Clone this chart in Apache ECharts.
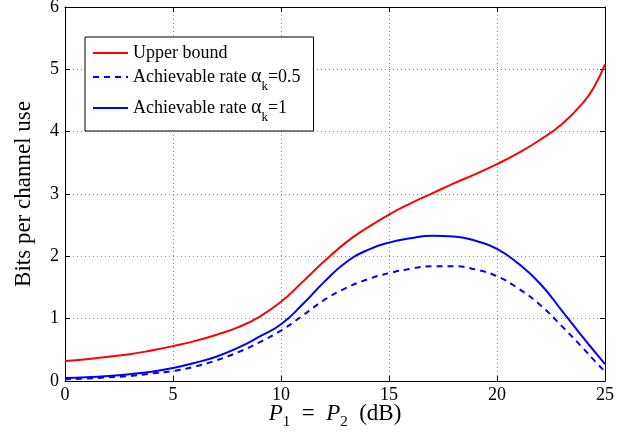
<!DOCTYPE html>
<html>
<head>
<meta charset="utf-8">
<script src="https://cdn.jsdelivr.net/npm/echarts@6/dist/echarts.min.js"></script>
<style>
  html, body { margin: 0; padding: 0; background: #fff; }
  #chart { width: 631px; height: 432px; }
</style>
</head>
<body>
<div id="chart"></div>
<script>
// P1 = P2 in dB
const xValues = [0, 1, 2, 3, 4, 5, 6, 7, 8, 9, 10, 11, 12, 13, 14, 15, 16, 17, 18, 19, 20, 21, 22, 23, 24, 24.5, 25];
const upperBound = [0.32, 0.35, 0.39, 0.43, 0.49, 0.56, 0.64, 0.74, 0.86, 1.03, 1.27, 1.59, 1.92, 2.22, 2.46, 2.67, 2.85, 3.01, 3.17, 3.32, 3.48, 3.66, 3.87, 4.12, 4.47, 4.72, 5.08];
const rateHalf = [0.03, 0.04, 0.06, 0.08, 0.12, 0.16, 0.23, 0.33, 0.46, 0.62, 0.81, 1.05, 1.30, 1.49, 1.63, 1.73, 1.80, 1.84, 1.84, 1.79, 1.68, 1.48, 1.22, 0.88, 0.52, 0.33, 0.15];
const rateOne = [0.05, 0.06, 0.08, 0.11, 0.15, 0.21, 0.29, 0.39, 0.53, 0.71, 0.91, 1.23, 1.59, 1.90, 2.10, 2.22, 2.29, 2.33, 2.32, 2.25, 2.12, 1.88, 1.56, 1.13, 0.69, 0.48, 0.27];
const seriesNames = ['Upper bound', 'Achievable rate α_k=0.5', 'Achievable rate α_k=1'];

const serif = 'Liberation Serif';
const pairs = (ys) => xValues.map((x, i) => [x, ys[i]]);

const gridLine = { show: true, lineStyle: { color: '#8a8a8a', type: [1, 3], width: 1 } };
const tickIn = { show: true, inside: true, length: 5, lineStyle: { color: '#000' } };

const chart = echarts.init(document.getElementById('chart'));
chart.setOption({
  animation: false,
  grid: { left: 65, right: 26, top: 7, bottom: 51, outerBoundsMode: 'none' },
  legend: {
    orient: 'vertical',
    left: 85,
    top: 37,
    padding: [7, 13, 7, 7],
    itemGap: 5,
    itemWidth: 35,
    itemHeight: 14,
    backgroundColor: '#fff',
    borderColor: '#000',
    borderWidth: 1,
    borderRadius: 0,
    itemStyle: { opacity: 0 },
    data: seriesNames,
    formatter: (name) => {
      const m = name.match(/^(.*)α_k(.*)$/);
      if (!m) return '{n|' + name + '}';
      return '{n|' + m[1] + '}{a|α}{s|k}{n|' + m[2] + '}';
    },
    textStyle: {
      fontFamily: serif,
      fontSize: 18,
      color: '#000',
      rich: {
        n: { fontFamily: serif, fontSize: 18, lineHeight: 22, verticalAlign: 'middle' },
        a: { fontFamily: serif, fontSize: 20, lineHeight: 22, verticalAlign: 'middle' },
        s: { fontFamily: serif, fontSize: 13, lineHeight: 22, verticalAlign: 'bottom', padding: [0, 0, -5, 0] }
      }
    }
  },
  xAxis: [{
    type: 'value',
    min: 0,
    max: 25,
    interval: 5,
    name: '{i|P}{s|1}{n|  =  }{i|P}{s|2}{n|  (dB)}',
    nameLocation: 'middle',
    nameGap: 20,
    nameMoveOverlap: false,
    nameTextStyle: {
      rich: {
        i: { fontFamily: serif, fontStyle: 'italic', fontSize: 23, lineHeight: 26, verticalAlign: 'middle' },
        n: { fontFamily: serif, fontSize: 23, lineHeight: 26, verticalAlign: 'middle' },
        s: { fontFamily: serif, fontSize: 15, lineHeight: 26, verticalAlign: 'bottom', padding: [0, 0, -3, 0] }
      }
    },
    axisLine: { show: true, onZero: false, lineStyle: { color: '#000', width: 1 } },
    axisTick: tickIn,
    axisLabel: { fontFamily: serif, fontSize: 18, color: '#000', margin: 5 },
    splitLine: gridLine
  }, {
    type: 'value',
    position: 'top',
    min: 0,
    max: 25,
    interval: 5,
    axisLine: { show: true, onZero: false, lineStyle: { color: '#000', width: 1 } },
    axisTick: tickIn,
    axisLabel: { show: false },
    splitLine: { show: false }
  }],
  yAxis: [{
    type: 'value',
    min: 0,
    max: 6,
    interval: 1,
    name: 'Bits per channel use',
    nameLocation: 'middle',
    nameGap: 30,
    nameMoveOverlap: false,
    nameTextStyle: { fontFamily: serif, fontSize: 23, color: '#000' },
    axisLine: { show: true, onZero: false, lineStyle: { color: '#000', width: 1 } },
    axisTick: tickIn,
    axisLabel: { fontFamily: serif, fontSize: 18, color: '#000', margin: 6 },
    splitLine: gridLine
  }, {
    type: 'value',
    position: 'right',
    min: 0,
    max: 6,
    interval: 1,
    axisLine: { show: true, onZero: false, lineStyle: { color: '#000', width: 1 } },
    axisTick: tickIn,
    axisLabel: { show: false },
    splitLine: { show: false }
  }],
  series: [{
    name: seriesNames[0],
    type: 'line',
    data: pairs(upperBound),
    smooth: 0.5,
    showSymbol: false,
    symbol: 'none',
    lineStyle: { color: '#ff0000', width: 2 },
    itemStyle: { color: '#ff0000' }
  }, {
    name: seriesNames[1],
    type: 'line',
    data: pairs(rateHalf),
    smooth: 0.5,
    showSymbol: false,
    symbol: 'none',
    lineStyle: { color: '#0000ff', width: 2, type: [6, 5] },
    itemStyle: { color: '#0000ff' }
  }, {
    name: seriesNames[2],
    type: 'line',
    data: pairs(rateOne),
    smooth: 0.5,
    showSymbol: false,
    symbol: 'none',
    lineStyle: { color: '#0000ff', width: 2 },
    itemStyle: { color: '#0000ff' }
  }]
});
</script>
</body>
</html>
